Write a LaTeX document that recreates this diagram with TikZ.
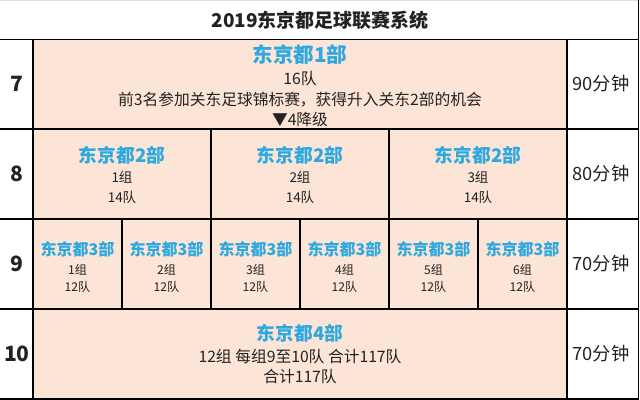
\documentclass[tikz,border=0pt]{standalone}
\usepackage{fontspec}
\setmainfont{Noto Sans CJK SC}
\usetikzlibrary{positioning}
\definecolor{peach}{HTML}{FCE4D6}
\definecolor{divblue}{HTML}{2EA9DF}
\definecolor{ink}{HTML}{222222}

\tikzstyle{grid} = [draw=black,line width=0.9pt]
\tikzstyle{faint} = [draw=black!12,line width=1pt]
\tikzstyle{title} = [font=\fontsize{13.5}{15}\selectfont\bfseries,text=ink]
\tikzstyle{level} = [font=\fontsize{15}{17}\selectfont\bfseries,text=ink]
\tikzstyle{minutes} = [font=\fontsize{13}{15}\selectfont,text=ink]
\tikzstyle{bigdiv} = [font=\fontsize{14.6}{16}\selectfont\bfseries,text=divblue,inner sep=0pt]
\tikzstyle{middiv} = [font=\fontsize{13.3}{15}\selectfont\bfseries,text=divblue,inner sep=0pt]
\tikzstyle{smalldiv} = [font=\fontsize{11.4}{13}\selectfont\bfseries,text=divblue,inner sep=0pt]
\tikzstyle{info} = [font=\fontsize{11.2}{13}\selectfont,text=ink,inner sep=0pt]
\tikzstyle{midinfo} = [font=\fontsize{9.6}{11}\selectfont,text=ink,inner sep=0pt]
\tikzstyle{smallinfo} = [font=\fontsize{8.6}{10}\selectfont,text=ink,inner sep=0pt]

\begin{document}
\begin{tikzpicture}[x=0.025cm,y=-0.025cm]
      \useasboundingbox (0,0) rectangle (640,400);
      %cells
      \fill[peach] (33,39.5) rectangle (567,399);
      \draw[faint] (0,0.5) -- (639,0.5);
      \foreach \y in {39.5,129,219,309,399}
        \draw[grid] (0,\y) -- (638.5,\y);
      \draw[grid] (33,39.5) -- (33,399);
      \draw[grid] (567,39.5) -- (567,399);
      \draw[grid] (638.5,0) -- (638.5,399);
      \foreach \x in {211,389}
        \draw[grid] (\x,129) -- (\x,219);
      \foreach \x in {122,211,300,389,478}
        \draw[grid] (\x,219) -- (\x,309);

      %title and side columns
      \node[title] (head) at (320,20) {2019东京都足球联赛系统};
      \foreach \nodename/\y/\lv/\mins in {
        seven/84/7/90, eight/174/8/80, nine/264/9/70, ten/354/10/70}
      {
        \node[level] (lv\nodename) at (17,\y) {\lv};
        \node[minutes] (min\nodename) at (601,\y) {\mins 分钟};
      };

      %division 1
      \node[bigdiv] (d1) at (300,55) {东京都1部};
      \node[info] (d1teams) at (300,78.5) {16队};
      \node[info] (d1promo) at (300,99.5) {前3名参加关东足球锦标赛，获得升入关东2部的机会};
      \node[info] (d1down) at (300,119.5) {▼4降级};

      %division 2
      \foreach \nodename/\x/\grp in {a/122/1, b/300/2, c/478/3}
      {
        \node[middiv] (d2\nodename) at (\x,155) {东京都2部};
        \node[midinfo] (d2grp\nodename) at (\x,177) {\grp 组};
        \node[midinfo] (d2team\nodename) at (\x,197) {14队};
      };

      %division 3
      \foreach \nodename/\x/\grp in {a/77.5/1, b/166.5/2, c/255.5/3, d/344.5/4, e/433.5/5, f/522.5/6}
      {
        \node[smalldiv] (d3\nodename) at (\x,249) {东京都3部};
        \node[smallinfo] (d3grp\nodename) at (\x,270) {\grp 组};
        \node[smallinfo] (d3team\nodename) at (\x,287) {12队};
      };

      %division 4
      \node[middiv] (d4) at (300,333) {东京都4部};
      \node[info] (d4groups) at (300,356.5) {12组 每组9至10队 合计117队};
      \node[info] (d4total) at (300,377) {合计117队};
    \end{tikzpicture}
\end{document}
